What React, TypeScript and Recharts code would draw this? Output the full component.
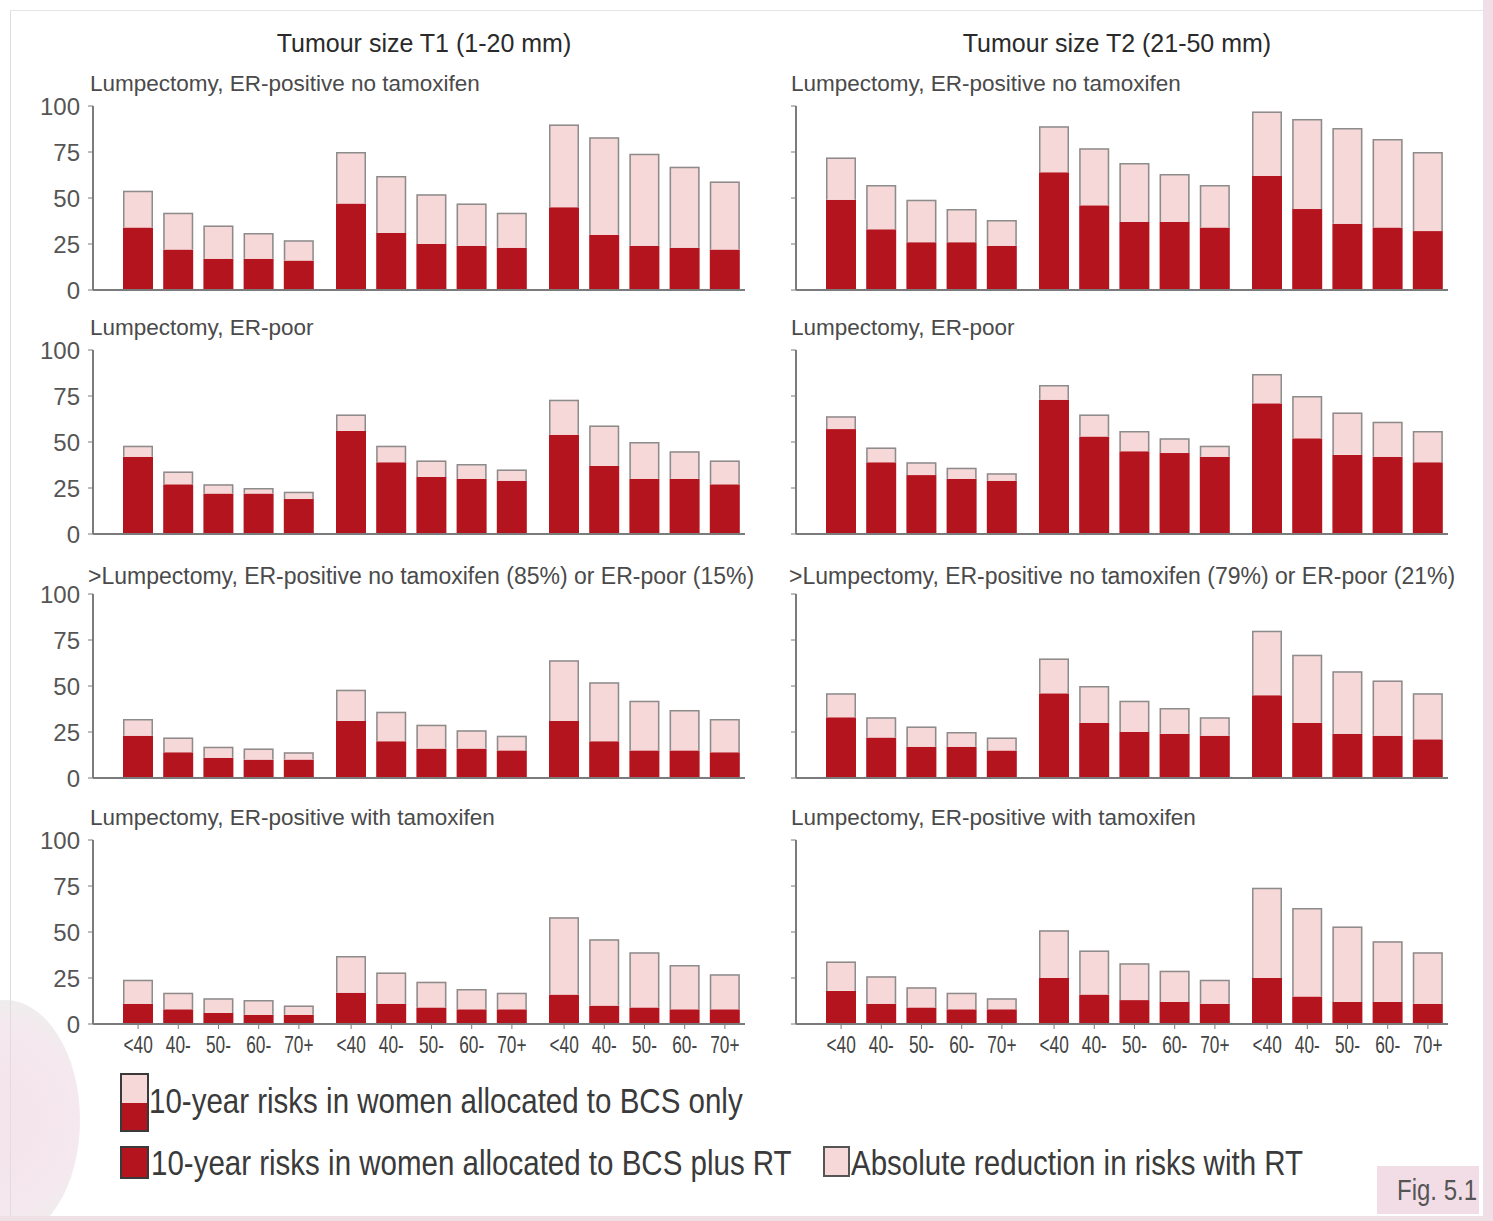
import { Bar, BarChart, XAxis, YAxis } from 'recharts';

const DARK = '#b3141e';
const PINK = '#f6d8d8';
const OUTLINE = '#8c8c8c';
const AXIS = '#7b7b7b';
const FONT = '"Liberation Sans", Arial, sans-serif';

const AGES = ['<40', '40-', '50-', '60-', '70+'];
const Y_TICKS = [0, 25, 50, 75, 100];
const TITLES = ['Tumour size T1 (1-20 mm)', 'Tumour size T2 (21-50 mm)'];

// each panel: 3 groups x 5 age bands; plusRt = dark part, bcsOnly = top of the bar
const T1_ERPOS_RT = [34, 22, 17, 17, 16, 47, 31, 25, 24, 23, 45, 30, 24, 23, 22];
const T1_ERPOS_BCS = [54, 42, 35, 31, 27, 75, 62, 52, 47, 42, 90, 83, 74, 67, 59];
const T2_ERPOS_RT = [49, 33, 26, 26, 24, 64, 46, 37, 37, 34, 62, 44, 36, 34, 32];
const T2_ERPOS_BCS = [72, 57, 49, 44, 38, 89, 77, 69, 63, 57, 97, 93, 88, 82, 75];

const T1_ERPOOR_RT = [42, 27, 22, 22, 19, 56, 39, 31, 30, 29, 54, 37, 30, 30, 27];
const T1_ERPOOR_BCS = [48, 34, 27, 25, 23, 65, 48, 40, 38, 35, 73, 59, 50, 45, 40];
const T2_ERPOOR_RT = [57, 39, 32, 30, 29, 73, 53, 45, 44, 42, 71, 52, 43, 42, 39];
const T2_ERPOOR_BCS = [64, 47, 39, 36, 33, 81, 65, 56, 52, 48, 87, 75, 66, 61, 56];

const T1_MIX_RT = [23, 14, 11, 10, 10, 31, 20, 16, 16, 15, 31, 20, 15, 15, 14];
const T1_MIX_BCS = [32, 22, 17, 16, 14, 48, 36, 29, 26, 23, 64, 52, 42, 37, 32];
const T2_MIX_RT = [33, 22, 17, 17, 15, 46, 30, 25, 24, 23, 45, 30, 24, 23, 21];
const T2_MIX_BCS = [46, 33, 28, 25, 22, 65, 50, 42, 38, 33, 80, 67, 58, 53, 46];

const T1_TAM_RT = [11, 8, 6, 5, 5, 17, 11, 9, 8, 8, 16, 10, 9, 8, 8];
const T1_TAM_BCS = [24, 17, 14, 13, 10, 37, 28, 23, 19, 17, 58, 46, 39, 32, 27];
const T2_TAM_RT = [18, 11, 9, 8, 8, 25, 16, 13, 12, 11, 25, 15, 12, 12, 11];
const T2_TAM_BCS = [34, 26, 20, 17, 14, 51, 40, 33, 29, 24, 74, 63, 53, 45, 39];

const SUBTITLES = [
  ['Lumpectomy, ER-positive no tamoxifen', 'Lumpectomy, ER-positive no tamoxifen'],
  ['Lumpectomy, ER-poor', 'Lumpectomy, ER-poor'],
  ['>Lumpectomy, ER-positive no tamoxifen (85%) or ER-poor (15%)', '>Lumpectomy, ER-positive no tamoxifen (79%) or ER-poor (21%)'],
  ['Lumpectomy, ER-positive with tamoxifen', 'Lumpectomy, ER-positive with tamoxifen'],
];

const PANELS = [
  [[T1_ERPOS_RT, T1_ERPOS_BCS], [T2_ERPOS_RT, T2_ERPOS_BCS]],
  [[T1_ERPOOR_RT, T1_ERPOOR_BCS], [T2_ERPOOR_RT, T2_ERPOOR_BCS]],
  [[T1_MIX_RT, T1_MIX_BCS], [T2_MIX_RT, T2_MIX_BCS]],
  [[T1_TAM_RT, T1_TAM_BCS], [T2_TAM_RT, T2_TAM_BCS]],
];

const PLOT_TOP = [106, 350, 594, 840];
const PLOT_H = 184;
const AXIS_X = [93, 796];
const Y_W = 60;

function rowsFor(plusRt: number[], bcsOnly: number[], g: number) {
  return plusRt.slice(g * 5, g * 5 + 5).map((v, i) => ({
    age: AGES[i],
    plusRt: v,
    reduction: bcsOnly[g * 5 + i] - v,
  }));
}

function ReductionBar(props: any) {
  const { x, y, width, height } = props;
  if (!height || height <= 0) return null;
  return (
    <g>
      <rect x={x} y={y} width={width} height={height} fill={PINK} />
      <path
        d={`M${x + 0.75},${y + height}V${y + 0.75}H${x + width - 0.75}V${y + height}`}
        fill="none"
        stroke={OUTLINE}
        strokeWidth={1.5}
      />
    </g>
  );
}

// condensed-looking age label
function AgeTick(props: any) {
  const { x, y, payload } = props;
  return (
    <g transform={`translate(${x},${y})`}>
      <text transform="scale(0.72,1)" textAnchor="middle" dy={18} fill="#444" fontSize={24} fontFamily={FONT}>
        {payload.value}
      </text>
    </g>
  );
}

function Group({ data, first, ageLabels, yLabels }: { data: any[]; first: boolean; ageLabels: boolean; yLabels: boolean }) {
  const xh = ageLabels ? 40 : 16;
  const width = first ? Y_W + 25 + 201 : 213;
  return (
    <BarChart width={width} height={12 + PLOT_H + xh} data={data} margin={{ top: 12, right: 0, bottom: 0, left: 0 }} barSize={30}>
      <XAxis
        dataKey="age"
        interval={0}
        height={xh}
        padding={{ left: first ? 25 : 12, right: 0 }}
        axisLine={{ stroke: AXIS, strokeWidth: 2 }}
        tickLine={{ stroke: AXIS, strokeWidth: 1 }}
        tickSize={5}
        tickMargin={6}
        tick={ageLabels ? <AgeTick /> : false}
      />
      {first ? (
        <YAxis
          width={Y_W}
          domain={[0, 100]}
          ticks={Y_TICKS}
          interval={0}
          axisLine={{ stroke: AXIS, strokeWidth: 2 }}
          tickLine={{ stroke: AXIS, strokeWidth: 1 }}
          tickSize={5}
          tickMargin={8}
          tick={{ fill: '#555', fontSize: 24, fontFamily: FONT }}
          tickFormatter={yLabels ? undefined : () => ''}
        />
      ) : (
        <YAxis hide domain={[0, 100]} />
      )}
      <Bar dataKey="plusRt" stackId="a" fill={DARK} isAnimationActive={false} />
      <Bar dataKey="reduction" stackId="a" fill={PINK} shape={ReductionBar} isAnimationActive={false} />
    </BarChart>
  );
}

const narrowText = (scale: number, origin = 'left'): any => ({
  display: 'inline-block',
  transform: `scaleX(${scale})`,
  transformOrigin: origin,
});

export default function App() {
  const charts: any[] = [];
  PANELS.forEach((row, r) => {
    row.forEach(([rt, bcs], c) => {
      const x0 = AXIS_X[c];
      [0, 1, 2].forEach((g) => {
        const left = g === 0 ? x0 - Y_W : x0 + 25 + 201 + (g - 1) * 213;
        charts.push(
          <div key={`${r}-${c}-${g}`} style={{ position: 'absolute', left, top: PLOT_TOP[r] - 12 }}>
            <Group data={rowsFor(rt, bcs, g)} first={g === 0} ageLabels={r === 3} yLabels={c === 0} />
          </div>
        );
      });
      charts.push(
        <div
          key={`sub-${r}-${c}`}
          style={{
            position: 'absolute',
            left: x0 - (r === 2 ? 5 : 3) - (c === 1 ? 2 : 0),
            top: PLOT_TOP[r] - (r === 2 ? 29 : 33),
            fontFamily: FONT,
            fontSize: r === 2 ? 23 : 22.5,
            lineHeight: '22px',
            color: '#4a4a4a',
            whiteSpace: 'nowrap',
          }}
        >
          {SUBTITLES[r][c]}
        </div>
      );
    });
  });

  return (
    <div style={{ position: 'absolute', left: 0, top: 0, width: 1493, height: 1221, background: '#fff', overflow: 'hidden' }}>
      {/* page frame */}
      <div style={{ position: 'absolute', left: -70, top: 1000, width: 150, height: 240, borderRadius: '50%', background: 'radial-gradient(circle at 35% 50%, #f3e2ea 0%, #f5e8ee 60%, #eeeeee 85%, #ffffff 100%)' }} />
      <div style={{ position: 'absolute', left: 10, top: 10, width: 1473, height: 1206, borderLeft: '1px solid #dedede', borderTop: '1px solid #e6e6e6' }} />
      <div style={{ position: 'absolute', left: 1483, top: 0, width: 10, height: 1221, background: '#f1dfe7' }} />
      <div style={{ position: 'absolute', left: 0, top: 1216, width: 1493, height: 5, background: '#efe0e6' }} />

      {TITLES.map((t, c) => (
        <div
          key={t}
          style={{
            position: 'absolute',
            left: [424, 1117][c] - 250,
            width: 500,
            top: 31,
            textAlign: 'center',
            fontFamily: FONT,
            fontSize: 25,
            lineHeight: '25px',
            color: '#2a2a2a',
          }}
        >
          {t}
        </div>
      ))}

      {charts}

      {/* legend */}
      <div style={{ position: 'absolute', left: 120, top: 1073, width: 25, height: 55, border: '2px solid #3a3a3a', background: `linear-gradient(${PINK} 0 50%, ${DARK} 50% 100%)` }} />
      <div style={{ position: 'absolute', left: 120, top: 1146, width: 25, height: 29, border: '2px solid #3a3a3a', background: DARK }} />
      <div style={{ position: 'absolute', left: 823, top: 1146, width: 23, height: 27, border: '2px solid #555', background: PINK }} />
      {[
        { text: '10-year risks in women allocated to BCS only', left: 149, top: 1083 },
        { text: '10-year risks in women allocated to BCS plus RT', left: 151, top: 1145 },
        { text: 'Absolute reduction in risks with RT', left: 851, top: 1145 },
      ].map((l) => (
        <div
          key={l.text}
          style={{
            position: 'absolute',
            left: l.left,
            top: l.top,
            fontFamily: FONT,
            fontSize: 35,
            lineHeight: '35px',
            color: '#3a3a3a',
            whiteSpace: 'nowrap',
          }}
        >
          <span style={narrowText(0.843)}>{l.text}</span>
        </div>
      ))}

      <div
        style={{
          position: 'absolute',
          left: 1377,
          top: 1166,
          width: 102,
          height: 48,
          background: '#f2dde7',
          fontFamily: FONT,
          fontSize: 30,
          lineHeight: '48px',
          color: '#555',
          textAlign: 'right',
          paddingRight: 8,
          boxSizing: 'border-box',
          whiteSpace: 'nowrap',
        }}
      >
        <span style={narrowText(0.8, 'right')}>Fig. 5.1</span>
      </div>
    </div>
  );
}
